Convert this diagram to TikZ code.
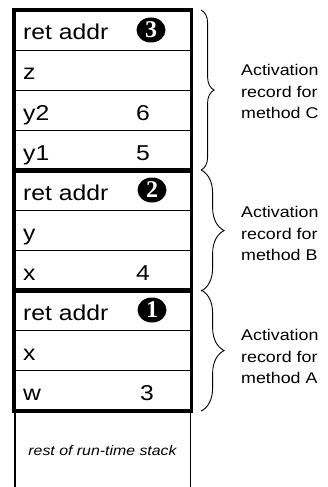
\documentclass[tikz,border=0pt]{standalone}
\usepackage{fontspec}
\setmainfont[FakeStretch=1.15]{Liberation Sans}
\newfontfamily\markfont{Liberation Serif}
\usetikzlibrary{calc,decorations.pathreplacing,shapes.geometric}

\tikzset{
  cell/.style={draw, line width=1.1pt, minimum width=176.5pt, minimum height=40pt,
               inner sep=0pt, anchor=north west},
  record/.style={line width=3.3pt},
  lbl/.style={anchor=base west, inner sep=0pt, font=\fontsize{21.5}{24}\selectfont},
  val/.style={anchor=base, inner sep=0pt, font=\fontsize{21.5}{24}\selectfont},
  callmark/.style={ellipse, fill=black, text=white, minimum width=29pt, minimum height=25pt,
                   inner sep=0pt, font=\markfont\bfseries\fontsize{24}{24}\selectfont},
  note/.style={anchor=north west, align=left, inner sep=0pt,
               font=\fontsize{15.5}{21.7}\selectfont},
  bracesmall/.style={decorate, decoration={brace, amplitude=13pt}, line width=0.9pt},
  bracebig/.style={decorate, decoration={brace, amplitude=23pt}, line width=0.9pt},
  stackside/.style={line width=1.1pt},
}

\begin{document}
\begin{tikzpicture}[x=1pt, y=-1pt]
  \useasboundingbox (0,0) rectangle (328,487);

  % method C frame
  \node[cell] (c1) at (14,10) {};
  \node[cell] (c2) at (14,50) {};
  \node[cell] (c3) at (14,90) {};
  \node[cell] (c4) at (14,130) {};
  % method B frame
  \node[cell] (b1) at (14,170) {};
  \node[cell] (b2) at (14,210) {};
  \node[cell] (b3) at (14,250) {};
  % method A frame
  \node[cell] (a1) at (14,290) {};
  \node[cell] (a2) at (14,330) {};
  \node[cell] (a3) at (14,370) {};

  % heavy outlines around each activation record
  \draw[record] (c1.north west) rectangle (c4.south east);
  \draw[record] (b1.north west) rectangle (b3.south east);
  \draw[record] (a1.north west) rectangle (a3.south east);

  % slot names
  \node[lbl] (lc1) at ($(c1.north west)+(9,30)$) {ret addr};
  \node[lbl] (lc2) at ($(c2.north west)+(9,30)$) {z};
  \node[lbl] (lc3) at ($(c3.north west)+(9,30)$) {y2};
  \node[lbl] (lc4) at ($(c4.north west)+(9,30)$) {y1};
  \node[lbl] (lb1) at ($(b1.north west)+(9,30)$) {ret addr};
  \node[lbl] (lb2) at ($(b2.north west)+(9,30)$) {y};
  \node[lbl] (lb3) at ($(b3.north west)+(9,30)$) {x};
  \node[lbl] (la1) at ($(a1.north west)+(9,30)$) {ret addr};
  \node[lbl] (la2) at ($(a2.north west)+(9,30)$) {x};
  \node[lbl] (la3) at ($(a3.north west)+(9,30)$) {w};

  % slot values
  \node[val] (vc3) at ($(c3.north west)+(129,30)$) {6};
  \node[val] (vc4) at ($(c4.north west)+(129,30)$) {5};
  \node[val] (vb3) at ($(b3.north west)+(129,30)$) {4};
  \node[val] (va3) at ($(a3.north west)+(133,30)$) {3};

  % return-address markers
  \node[callmark] (m3) at ($(c1.north west)+(137,20)$) {3};
  \node[callmark] (m2) at ($(b1.north west)+(138,20)$) {2};
  \node[callmark] (m1) at ($(a1.north west)+(138,20)$) {1};

  % remainder of the stack below
  \coordinate (rl) at (15,487);
  \coordinate (rr) at (190.7,487);
  \draw[stackside] (a3.south west -| rl) -- (rl);
  \draw[stackside] (a3.south east -| rr) -- (rr);
  \node[anchor=base, inner sep=0pt, font=\itshape\fontsize{13.8}{16}\selectfont]
    (rest) at (102.5,455) {rest of run-time stack};

  % braces and captions
  \draw[bracesmall] ($(c1.north east)+(9.5,0)$) -- ($(c4.south east)+(9.5,-1)$);
  \draw[bracebig] ($(b1.north east)+(9.5,0)$) -- ($(b3.south east)+(9.5,0)$);
  \draw[bracebig] ($(a1.north east)+(9.5,0)$) -- ($(a3.south east)+(9.5,0)$);

  \node[note] (nc) at (241,63.9) {Activation\\record for\\method C};
  \node[note] (nb) at (241,205.9) {Activation\\record for\\method B};
  \node[note] (na) at (241,328.9) {Activation\\record for\\method A};
\end{tikzpicture}
\end{document}
